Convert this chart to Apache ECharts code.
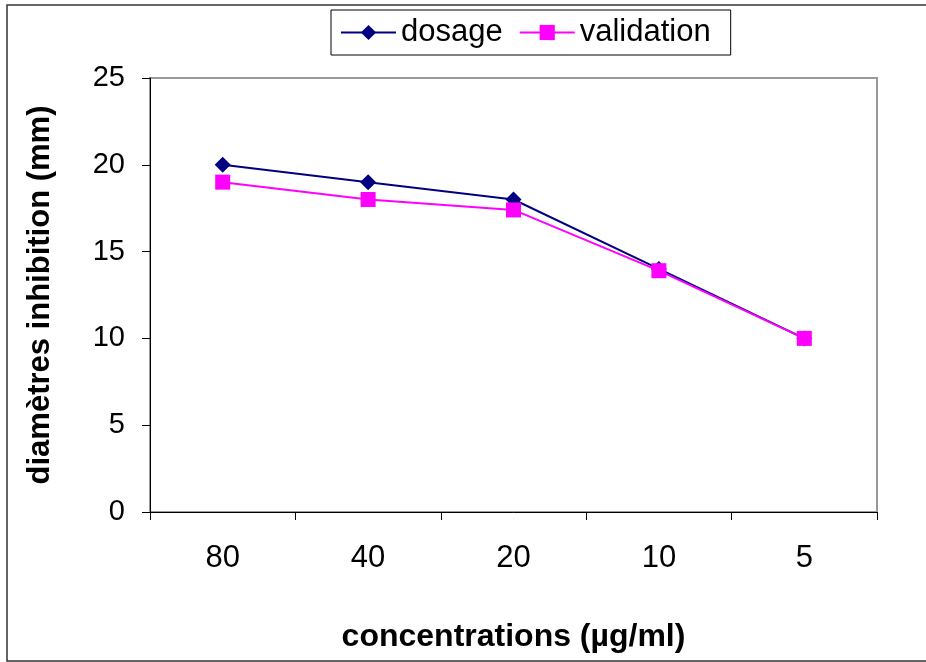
<!DOCTYPE html>
<html>
<head>
<meta charset="utf-8">
<script src="https://cdn.jsdelivr.net/npm/echarts@6/dist/echarts.min.js"></script>
<style>
  html, body { margin: 0; padding: 0; background: #fff; }
  #chart { width: 926px; height: 662px; }
</style>
</head>
<body>
<div id="chart"></div>
<script>
// concentrations (µg/ml)
const categories = ['80', '40', '20', '10', '5'];
const dosage = [20, 19, 18, 14, 10];
const validation = [19, 18, 17.4, 13.9, 10];

const font = 'Liberation Sans, Arial, sans-serif';

let myChart = echarts.init(document.getElementById('chart'));
let option = {
    animation: false,
    backgroundColor: '#fff',
    graphic: [{
        type: 'rect',
        shape: { x: 7, y: 5, width: 930, height: 656 },
        style: { fill: 'none', stroke: '#333', lineWidth: 1.5 },
        silent: true
    }],
    legend: {
        top: 10,
        left: 331,
        padding: [7, 20, 7, 9],
        borderColor: '#000',
        borderWidth: 1,
        itemWidth: 55,
        itemHeight: 19,
        itemGap: 16,
        textStyle: { fontFamily: font, fontSize: 31, color: '#000' },
        data: ['dosage', 'validation']
    },
    grid: {
        left: 150,
        right: 49,
        top: 78,
        bottom: 150,
        show: true,
        borderColor: '#999',
        borderWidth: 2
    },
    xAxis: {
        type: 'category',
        data: categories,
        boundaryGap: true,
        name: 'concentrations (µg/ml)',
        nameLocation: 'middle',
        nameGap: 109,
        nameTextStyle: { fontFamily: font, fontSize: 32, fontWeight: 'bold', color: '#000' },
        axisLine: { lineStyle: { color: '#000', width: 1 } },
        axisTick: { show: true, length: 8, inside: false, lineStyle: { color: '#000' } },
        axisLabel: { fontFamily: font, fontSize: 31, color: '#000', margin: 31 },
        splitLine: { show: false }
    },
    yAxis: {
        type: 'value',
        min: 0,
        max: 25,
        interval: 5,
        name: 'diamètres inhibition (mm)',
        nameLocation: 'middle',
        nameGap: 94,
        nameTextStyle: { fontFamily: font, fontSize: 31, fontWeight: 'bold', color: '#000' },
        axisLine: { show: true, lineStyle: { color: '#000', width: 1 } },
        axisTick: { show: true, length: 8, lineStyle: { color: '#000' } },
        axisLabel: { fontFamily: font, fontSize: 29, color: '#000', margin: 25 },
        splitLine: { show: false }
    },
    series: [
        {
            name: 'dosage',
            type: 'line',
            data: dosage,
            symbol: 'diamond',
            symbolSize: 16,
            color: '#000080',
            lineStyle: { color: '#000080', width: 2 },
            itemStyle: { color: '#000080' },
            z: 2
        },
        {
            name: 'validation',
            type: 'line',
            data: validation,
            symbol: 'rect',
            symbolSize: 15,
            color: '#ff00ff',
            lineStyle: { color: '#ff00ff', width: 2 },
            itemStyle: { color: '#ff00ff' },
            z: 3
        }
    ]
};
myChart.setOption(option, true);
</script>
</body>
</html>
